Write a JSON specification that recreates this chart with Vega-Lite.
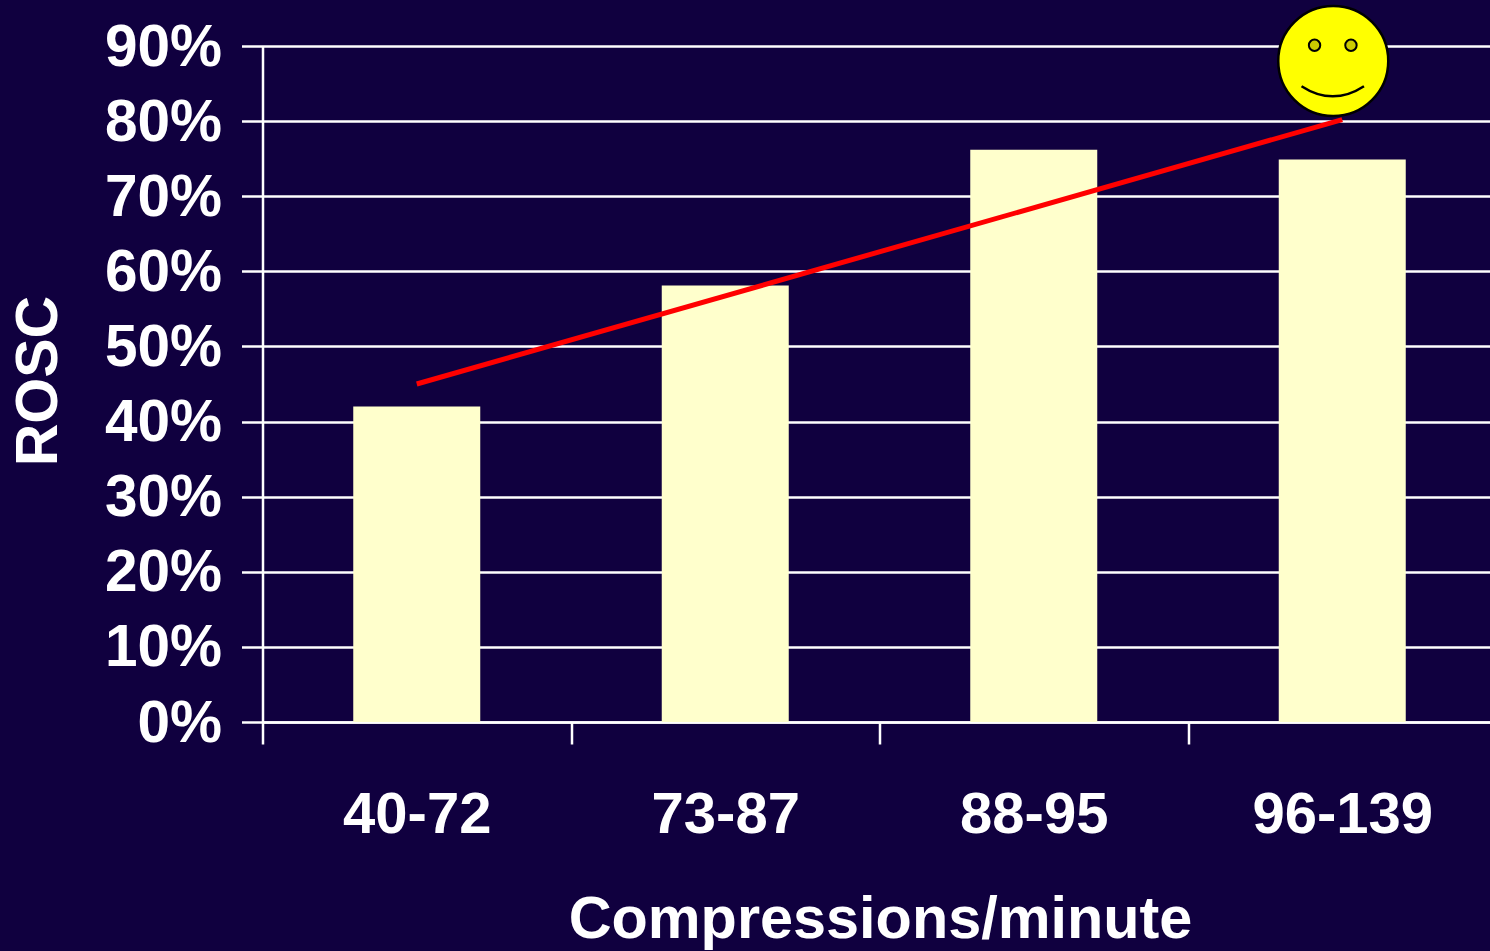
{"$schema":"https://vega.github.io/schema/vega-lite/v6.json","background":"#10003F","autosize":"none","width":1234,"height":676,"padding":{"left":262.5,"top":46,"right":-6.5,"bottom":229},"config":{"view":{"stroke":null},"font":"Liberation Sans"},"datasets":{"bars":[{"range":"40-72","rosc":42},{"range":"73-87","rosc":58.1},{"range":"88-95","rosc":76.2},{"range":"96-139","rosc":74.9}],"trend":[{"range":"40-72","rosc":45},{"range":"96-139","rosc":80.2}],"face":[{"range":"96-139","rosc":88}],"eyes":[{"range":"96-139","rosc":90.1,"side":"left"},{"range":"96-139","rosc":90.1,"side":"right"}],"smile":[{"range":"96-139","rosc":83.4}]},"layer":[{"data":{"name":"bars"},"mark":{"type":"bar","color":"#FFFFCC","size":127},"encoding":{"x":{"field":"range","type":"nominal","sort":null,"title":"Compressions/minute","scale":{"paddingInner":0,"paddingOuter":0},"axis":{"labelAngle":0,"labelFont":"Liberation Sans","labelFontWeight":"bold","labelFontSize":58,"labelColor":"#FFFFFF","labelPadding":42,"labelLimit":0,"tickBand":"extent","tickSize":22,"tickColor":"#FFFFFF","tickWidth":2.5,"domainColor":"#FFFFFF","domainWidth":2.5,"titleFont":"Liberation Sans","titleFontWeight":"bold","titleFontSize":59.4,"titleColor":"#FFFFFF","titlePadding":46,"titleX":617.5,"titleAnchor":"middle"}},"y":{"field":"rosc","type":"quantitative","title":"ROSC","scale":{"domain":[0,90],"nice":false},"axis":{"values":[0,10,20,30,40,50,60,70,80,90],"labelExpr":"datum.value + '%'","labelFont":"Liberation Sans","labelFontWeight":"bold","labelFontSize":58.5,"labelColor":"#FFFFFF","labelPadding":20,"labelOffset":1,"tickSize":21,"tickColor":"#FFFFFF","tickWidth":2.5,"domainColor":"#FFFFFF","domainWidth":2.5,"grid":true,"gridColor":"#FFFFFF","gridWidth":2.5,"gridOpacity":1,"zindex":0,"titleFont":"Liberation Sans","titleFontWeight":"bold","titleFontSize":59,"titleColor":"#FFFFFF","titlePadding":36,"titleY":334.5}}}},{"data":{"name":"trend"},"mark":{"type":"line","color":"#FF0000","strokeWidth":5},"encoding":{"x":{"field":"range","type":"nominal","sort":null},"y":{"field":"rosc","type":"quantitative"}}},{"data":{"name":"face"},"mark":{"type":"point","filled":true,"fill":"#FFFF00","stroke":"#000000","strokeWidth":2.5,"opacity":1,"size":12100,"xOffset":-9},"encoding":{"x":{"field":"range","type":"nominal","sort":null},"y":{"field":"rosc","type":"quantitative"}}},{"data":{"name":"eyes"},"transform":[{"filter":"datum.side === 'left'"}],"mark":{"type":"point","filled":true,"fill":"#CCCC00","stroke":"#000000","strokeWidth":2,"opacity":1,"size":130,"xOffset":-27.7},"encoding":{"x":{"field":"range","type":"nominal","sort":null},"y":{"field":"rosc","type":"quantitative"}}},{"data":{"name":"eyes"},"transform":[{"filter":"datum.side === 'right'"}],"mark":{"type":"point","filled":true,"fill":"#CCCC00","stroke":"#000000","strokeWidth":2,"opacity":1,"size":130,"xOffset":8.7},"encoding":{"x":{"field":"range","type":"nominal","sort":null},"y":{"field":"rosc","type":"quantitative"}}},{"data":{"name":"smile"},"mark":{"type":"point","shape":"M-1,-0.3 Q0,0.35 1,-0.3","filled":false,"stroke":"#000000","strokeWidth":2.5,"opacity":1,"size":3900,"xOffset":-9.5},"encoding":{"x":{"field":"range","type":"nominal","sort":null},"y":{"field":"rosc","type":"quantitative"}}}]}
